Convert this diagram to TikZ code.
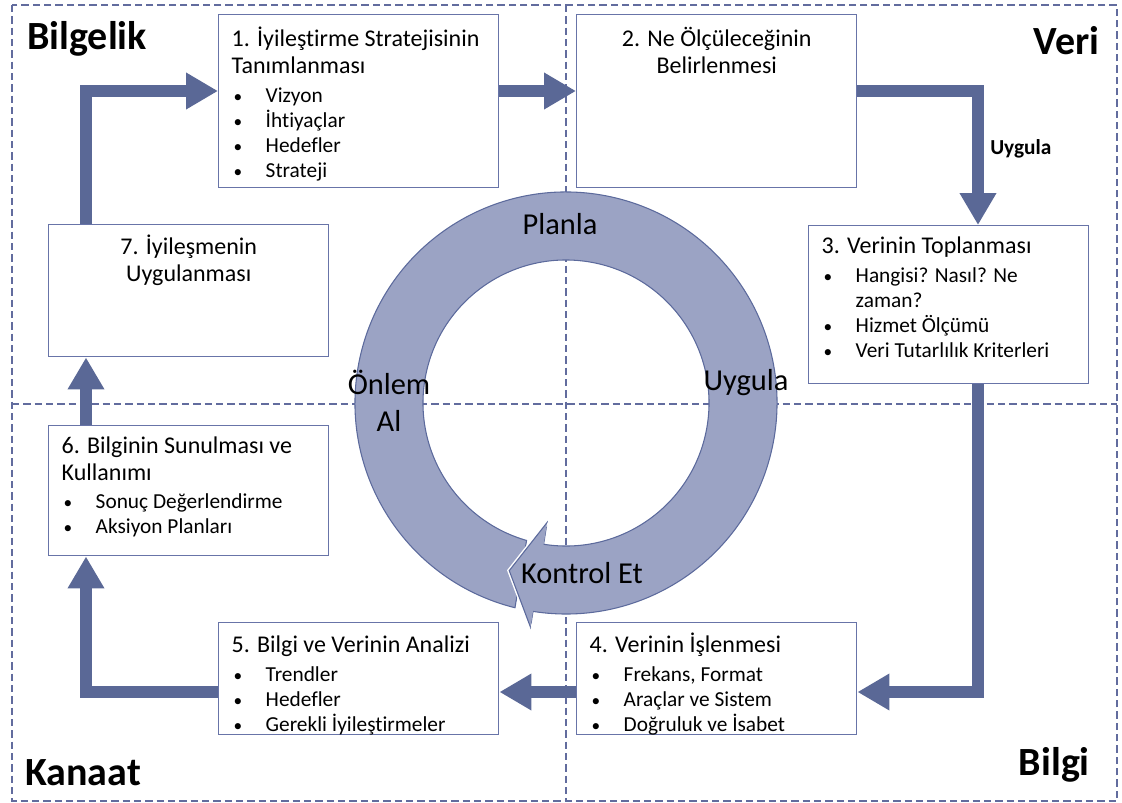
\documentclass[tikz,border=0pt]{standalone}
\usepackage{fontspec}
\setmainfont{Carlito}[Ligatures={NoCommon}]
\usetikzlibrary{arrows.meta, positioning, calc}
\definecolor{flowblue}{RGB}{90,104,150}
\definecolor{ringfill}{RGB}{155,163,196}
\definecolor{ringline}{RGB}{92,106,156}
\definecolor{dashblue}{RGB}{98,108,158}
\definecolor{boxline}{RGB}{104,116,168}
\newcommand{\ttl}{\fontsize{18}{20.3}\selectfont}
\newcommand{\gap}{\par\vspace{2.5pt}}
\newcommand{\itm}[1]{\par\fontsize{16}{18.8}\selectfont\hangindent=25.5pt\hangafter=1\hspace*{1.5pt}\makebox[24pt][l]{\fontsize{13}{13}\selectfont\textbullet}#1}
\newcommand{\boxtext}[3][22pt]{\parbox[c][#2][t]{190.5pt}{\raggedright\ttl\rule{0pt}{#1}#3}}
\tikzset{
  stepbox/.style={draw=boxline, line width=1.1pt, fill=white,
    inner xsep=9.75pt, inner ysep=0pt, anchor=north west},
  flow/.style={line width=9pt, draw=flowblue, line join=miter,
    -{Triangle[length=24pt,width=26pt]}},
  corner/.style={font=\fontsize{30}{32}\selectfont\bfseries, inner sep=0pt},
  cyclelbl/.style={font=\fontsize{22.8}{27.75}\selectfont, inner sep=0pt, align=center},
  quad/.style={draw=dashblue, line width=1.5pt, dash pattern=on 5.5pt off 3pt}
}
\begin{document}
\begin{tikzpicture}[x=0.75pt, y=-0.75pt]
  \useasboundingbox (0,0) rectangle (1122,803);

  % quadrants
  \draw[quad] (12,5) rectangle (1117,801);
  \draw[quad] (566,5) -- (566,801);
  \draw[quad] (12,404) -- (1117,404);

  % PDCA ring
  \begin{scope}[shift={(566,403)}, yscale=-1]
    \path[draw=ringline, line width=0.8pt, fill=ringfill]
      (256:211) arc[start angle=256, end angle=-99, radius=211]
      -- (-99:227) -- (-108.7:177) -- (-99:121) -- (-99:143)
      arc[start angle=-99, end angle=254, radius=143] -- cycle;
    \draw[white, line width=3pt] (-99:121) -- (-108.7:177) -- (-99:227);
    \fill[ringfill] (-99:121) -- (-108.7:177) -- (-99:227) -- cycle;
    \draw[ringline, line width=0.8pt] (-99:121) -- (-108.7:177) -- (-99:227);
  \end{scope}

  \node[cyclelbl, anchor=base] (planla) at (560,234) {Planla};
  \node[cyclelbl, anchor=base] (uygula) at (746,390) {Uygula};
  \node[cyclelbl] (onlem) at (389,401) {Önlem\\Al};
  \node[cyclelbl, anchor=base] (kontrol) at (582,583) {Kontrol Et};

  % steps
  \node[stepbox] (b1) at (218,14) {\boxtext[24pt]{129.75pt}{1. İyileştirme Stratejisinin\\Tanımlanması\gap
    \itm{Vizyon}\itm{İhtiyaçlar}\itm{Hedefler}\itm{Strateji}}};
  \node[stepbox] (b2) at (576,14) {\boxtext[24pt]{129.75pt}{\centering 2. Ne Ölçüleceğinin\\Belirlenmesi}};
  \node[stepbox] (b3) at (808,225) {\boxtext[21pt]{118.5pt}{3. Verinin Toplanması\gap
    \itm{Hangisi? Nasıl? Ne\newline zaman?}\itm{Hizmet Ölçümü}\itm{Veri Tutarlılık Kriterleri}}};
  \node[stepbox] (b4) at (576,622) {\boxtext[22.5pt]{84pt}{4. Verinin İşlenmesi\gap
    \itm{Frekans, Format}\itm{Araçlar ve Sistem}\itm{Doğruluk ve İsabet}}};
  \node[stepbox] (b5) at (218,622) {\boxtext[22.5pt]{84pt}{5. Bilgi ve Verinin Analizi\gap
    \itm{Trendler}\itm{Hedefler}\itm{Gerekli İyileştirmeler}}};
  \node[stepbox] (b6) at (48,425) {\boxtext[20.5pt]{97.5pt}{6. Bilginin Sunulması ve\\Kullanımı\gap
    \itm{Sonuç Değerlendirme}\itm{Aksiyon Planları}}};
  \node[stepbox] (b7) at (48,224) {\boxtext{99pt}{\centering 7. İyileşmenin\\Uygulanması}};

  % flow
  \coordinate (k1) at (86,91);
  \coordinate (k2) at (978,91);
  \coordinate (k3) at (978,692);
  \coordinate (k4) at (86,692);
  \draw[flow] (b7.north -| k1) |- (b1.west |- k1);
  \draw[flow] (b1.east |- k1) -- (b2.west |- k1);
  \draw[flow] (b2.east |- k2) -| (b3.north -| k2);
  \draw[flow] (b3.south -| k3) |- (b4.east |- k3);
  \draw[flow] (b4.west |- k3) -- (b5.east |- k3);
  \draw[flow] (b5.west |- k4) -| (b6.south -| k4);
  \draw[flow] (b6.north -| k4) -- (b7.south -| k4);
  \node[font=\fontsize{16}{18}\selectfont\bfseries, inner sep=0pt, anchor=base west] (uyg) at (990,154) {Uygula};

  % corners
  \node[corner, anchor=base west] (bilgelik) at (27,50) {Bilgelik};
  \node[corner, anchor=base east] (veri) at (1100,55) {Veri};
  \node[corner, anchor=base west] (kanaat) at (25,785) {Kanaat};
  \node[corner, anchor=base east] (bilgi) at (1090,775) {Bilgi};
\end{tikzpicture}
\end{document}
